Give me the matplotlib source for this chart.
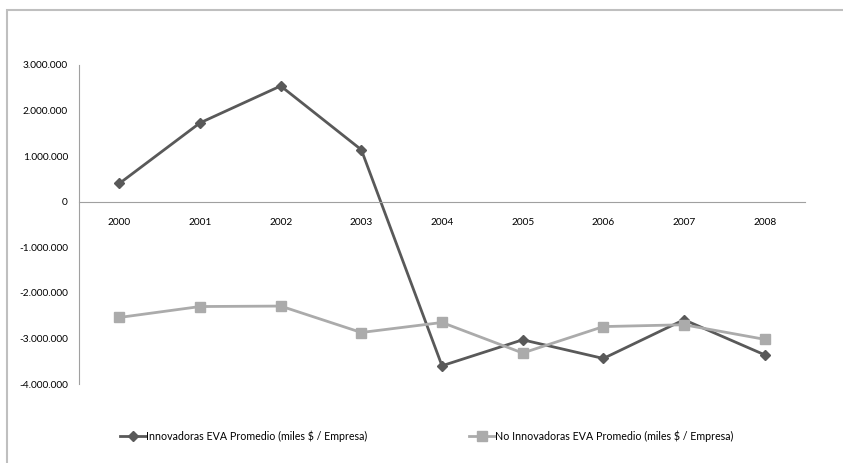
import matplotlib
matplotlib.use("Agg")
import matplotlib.pyplot as plt
from matplotlib.patches import Rectangle
from matplotlib.ticker import FuncFormatter

plt.rcParams['font.family'] = ['Lato', 'DejaVu Sans']

years = ['2000', '2001', '2002', '2003', '2004', '2005', '2006', '2007', '2008']
innovadoras = [400000, 1730000, 2540000, 1140000, -3600000, -3030000, -3440000, -2590000, -3360000]
no_innovadoras = [-2540000, -2300000, -2290000, -2870000, -2650000, -3320000, -2740000, -2700000, -3020000]

label_inn = 'Innovadoras EVA Promedio (miles $ / Empresa)'
label_no = 'No Innovadoras EVA Promedio (miles $ / Empresa)'

W, H = 843, 463
fig = plt.figure(figsize=(W / 100, H / 100), dpi=100)
ax = fig.add_axes([79 / W, 1 - 384 / H, (805 - 79) / W, (384 - 65) / H])

x = list(range(len(years)))
ax.plot(x, innovadoras, color='#595959', lw=2, marker='D', ms=5, label=label_inn)
ax.plot(x, no_innovadoras, color='#ABABAB', lw=2, marker='s', ms=6.5, label=label_no)

ax.set_xlim(-0.5, len(years) - 0.5)
ax.set_ylim(-4000000, 3000000)
ax.set_yticks(range(-4000000, 3000001, 1000000))
ax.yaxis.set_major_formatter(FuncFormatter(lambda v, p: f"{int(v):,}".replace(',', '.')))
ax.set_xticks(x)
ax.set_xticklabels(years)

for s in ['top', 'right']:
    ax.spines[s].set_visible(False)
ax.spines['bottom'].set_position(('data', 0))
ax.spines['bottom'].set_color('#A0A0A0')
ax.spines['left'].set_color('#A0A0A0')
ax.tick_params(axis='both', length=0, labelsize=7.3, colors='black')
ax.tick_params(axis='x', pad=12)
ax.tick_params(axis='y', pad=8)

fig.legend(loc='center', bbox_to_anchor=(427 / W, 1 - 436 / H), ncol=2, frameon=False,
           fontsize=7.7, columnspacing=9.5, handlelength=2.4, handletextpad=0.05)

fig.add_artist(Rectangle((7 / W, -0.1), 1.2, 1.1 - 10 / H, transform=fig.transFigure,
                         fill=False, edgecolor='#BFBFBF', lw=1.5))

fig.savefig('out.png', dpi=100)
